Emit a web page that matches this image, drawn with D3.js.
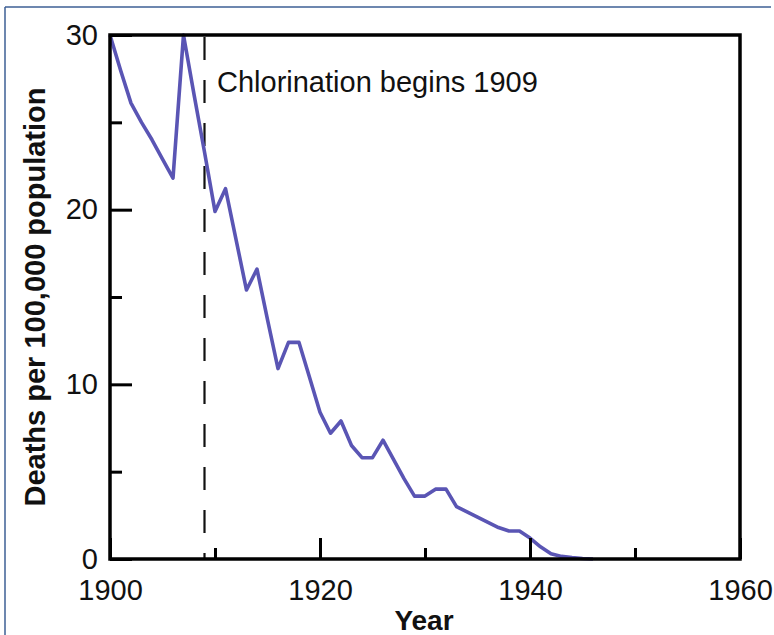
<!DOCTYPE html>
<html>
<head>
<meta charset="utf-8">
<script src="https://cdn.jsdelivr.net/npm/d3@7/dist/d3.min.js"></script>
<style>
  html, body { margin: 0; padding: 0; background: #fff; }
  svg { display: block; font-family: "Liberation Sans", Arial, sans-serif; }
</style>
</head>
<body>
<svg id="chart" width="774" height="635"></svg>
<script>
// ── DATA ─────────────────────────────────────────────────────────────────────
const years = [1900,1901,1902,1903,1904,1905,1906,1907,1908,1909,
               1910,1911,1912,1913,1914,1915,1916,1917,1918,1919,
               1920,1921,1922,1923,1924,1925,1926,1927,1928,1929,
               1930,1931,1932,1933,1934,1935,1936,1937,1938,1939,
               1940,1941,1942,1943,1944,1945,1946];
const deaths = [30.0,28.0,26.1,25.0,24.0,22.9,21.8,30.0,26.6,23.3,
                19.9,21.2,18.3,15.4,16.6,13.7,10.9,12.4,12.4,10.4,
                8.4,7.2,7.9,6.5,5.8,5.8,6.8,5.7,4.6,3.6,
                3.6,4.0,4.0,3.0,2.7,2.4,2.1,1.8,1.6,1.6,
                1.2,0.7,0.3,0.15,0.08,0.03,0.0];

const xMajor = [1900, 1920, 1940, 1960];
const xMinor = [1910, 1930, 1950];
const yMajor = [0, 10, 20, 30];
const yMinor = [5, 15, 25];

const chlorinationYear = 1909;
const annotation = 'Chlorination begins 1909';

// ── SETUP ────────────────────────────────────────────────────────────────────
const svg = d3.select('#chart');
const L = 110, R = 740, T = 35, B = 559;

const x = d3.scaleLinear().domain([1900, 1960]).range([L, R]);
const y = d3.scaleLinear().domain([0, 30]).range([B, T]);

// outer frame (only top + left edges visible in the scan)
svg.append('line').attr('x1', 5).attr('x2', 771).attr('y1', 7).attr('y2', 7)
  .attr('stroke', '#3d5f95').attr('stroke-width', 1.5);
svg.append('line').attr('x1', 5).attr('x2', 5).attr('y1', 7).attr('y2', 635)
  .attr('stroke', '#3d5f95').attr('stroke-width', 1.5);

// dashed marker
svg.append('line')
  .attr('x1', x(chlorinationYear)).attr('x2', x(chlorinationYear))
  .attr('y1', T + 2).attr('y2', B)
  .attr('stroke', '#111').attr('stroke-width', 2.2)
  .attr('stroke-dasharray', '23 20');

svg.append('text')
  .attr('x', 217).attr('y', 92)
  .attr('font-size', 29).attr('fill', '#111')
  .text(annotation);

// series
const line = d3.line().x((d, i) => x(years[i])).y(d => y(d));
svg.append('path')
  .datum(deaths)
  .attr('d', line)
  .attr('fill', 'none')
  .attr('stroke', '#5a55b4')
  .attr('stroke-width', 3.6)
  .attr('stroke-linejoin', 'round');

// ── AXES ─────────────────────────────────────────────────────────────────────
function styleAxis(sel) {
  sel.select('.domain').remove();
  sel.selectAll('.tick line').attr('stroke', '#000').attr('stroke-width', 3);
  sel.selectAll('.tick text').attr('fill', '#111').attr('font-size', 29)
    .attr('font-family', '"Liberation Sans", Arial, sans-serif');
}

svg.append('g').attr('transform', `translate(0,${B})`)
  .call(d3.axisBottom(x).tickValues(xMajor).tickSize(-21).tickPadding(20).tickFormat(d3.format('d')))
  .call(styleAxis);
svg.append('g').attr('transform', `translate(0,${B})`)
  .call(d3.axisBottom(x).tickValues(xMinor).tickSize(-11).tickFormat(''))
  .call(styleAxis);

svg.append('g').attr('transform', `translate(${L},0)`)
  .call(d3.axisLeft(y).tickValues(yMajor).tickSize(-22).tickPadding(12))
  .call(styleAxis);
svg.append('g').attr('transform', `translate(${L},0)`)
  .call(d3.axisLeft(y).tickValues(yMinor).tickSize(-12).tickFormat(''))
  .call(styleAxis);

// plot box
svg.append('rect')
  .attr('x', L).attr('y', T).attr('width', R - L).attr('height', B - T)
  .attr('fill', 'none').attr('stroke', '#000').attr('stroke-width', 3.5);

// axis titles
svg.append('text')
  .attr('x', 424).attr('y', 630)
  .attr('text-anchor', 'middle').attr('font-size', 28).attr('font-weight', 700)
  .attr('fill', '#111')
  .text('Year');

svg.append('text')
  .attr('transform', 'translate(45,297) rotate(-90)')
  .attr('text-anchor', 'middle').attr('font-size', 29).attr('font-weight', 700)
  .attr('fill', '#111')
  .text('Deaths per 100,000 population');
</script>
</body>
</html>
